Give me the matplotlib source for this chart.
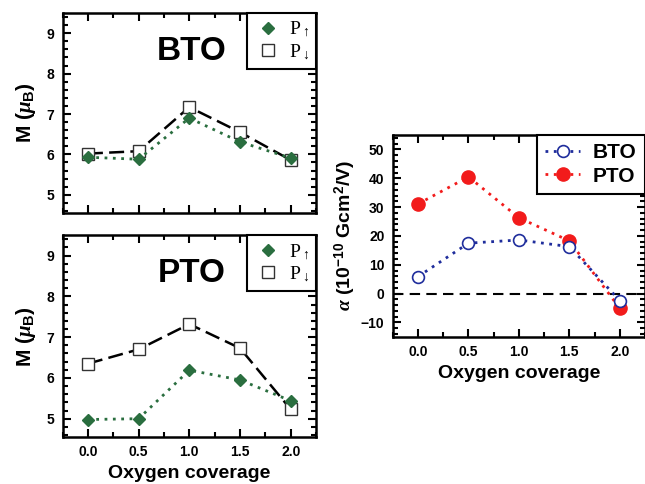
import matplotlib.pyplot as plt
from matplotlib.ticker import MultipleLocator

plt.rcParams['font.family'] = ['Liberation Sans', 'DejaVu Sans']
plt.rcParams['font.weight'] = 'bold'
plt.rcParams['mathtext.fontset'] = 'custom'
plt.rcParams['mathtext.rm'] = 'Liberation Sans:bold'
plt.rcParams['mathtext.bf'] = 'Liberation Sans:bold'
plt.rcParams['mathtext.it'] = 'Liberation Serif:italic'

coverage = [0.0, 0.5, 1.0, 1.5, 2.0]

# magnetic moments (mu_B)
bto_up = [5.93, 5.88, 6.90, 6.31, 5.91]
bto_dn = [6.02, 6.08, 7.17, 6.55, 5.86]
pto_up = [4.98, 5.00, 6.19, 5.95, 5.44]
pto_dn = [6.35, 6.70, 7.32, 6.73, 5.23]

# magnetoelectric coefficient (1e-10 G cm^2 / V)
alpha_bto = [5.9, 17.5, 18.6, 16.3, -2.4]
alpha_pto = [31.1, 40.5, 26.3, 18.3, -5.1]

green = '#2a6e3f'
blue = '#1f2d9c'
red = '#f21b1b'

fig = plt.figure(figsize=(6.45, 4.84), dpi=100)
ax1 = fig.add_axes([0.097, 0.560, 0.393, 0.413])
ax2 = fig.add_axes([0.097, 0.097, 0.393, 0.417])
ax3 = fig.add_axes([0.609, 0.304, 0.391, 0.417])


def style(ax, ymaj, ymin):
    ax.set_xlim(-0.25, 2.25)
    ax.xaxis.set_major_locator(MultipleLocator(0.5))
    ax.xaxis.set_minor_locator(MultipleLocator(0.25))
    ax.yaxis.set_major_locator(MultipleLocator(ymaj))
    ax.yaxis.set_minor_locator(MultipleLocator(ymin))
    ax.tick_params(which='both', direction='in', top=True, right=True,
                   width=1.5, labelsize=10, pad=6)
    ax.tick_params(which='major', length=6)
    ax.tick_params(which='minor', length=3.5)
    for s in ax.spines.values():
        s.set_linewidth(1.8)
    for lab in ax.get_xticklabels() + ax.get_yticklabels():
        lab.set_fontweight('bold')


def mpanel(ax, up, dn, name):
    ax.plot(coverage, up, linestyle=(0, (1, 2)), color=green, lw=2,
            marker='D', ms=6.5, mfc=green, mec=green, label=r'P$_{\uparrow}$', zorder=3)
    ax.plot(coverage, dn, linestyle=(0, (6, 2.5)), color='black', lw=1.8,
            marker='s', ms=9, mfc='white', mec='#333333', mew=1.0,
            label=r'P$_{\downarrow}$', zorder=2)
    ax.set_ylim(4.55, 9.5)
    style(ax, 1, 0.2)
    ax.set_ylabel(r'M ($\mathit{\mu}_\mathbf{B}$)', fontsize=15, fontweight='bold', labelpad=6)
    ax.text(0.51, 0.81, name, transform=ax.transAxes, ha='center', va='center',
            fontsize=24, fontweight='bold')
    leg = ax.legend(loc='upper right', borderaxespad=0, fancybox=False,
                    edgecolor='black', framealpha=1, handlelength=1.4,
                    handletextpad=0.4, borderpad=0.35, labelspacing=0.15,
                    prop={'family': 'Liberation Serif', 'weight': 'normal', 'size': 14})
    leg.get_frame().set_linewidth(1.5)
    for h in leg.legend_handles:
        h.set_linestyle('none')


mpanel(ax1, bto_up, bto_dn, 'BTO')
ax1.tick_params(labelbottom=False)
mpanel(ax2, pto_up, pto_dn, 'PTO')
ax2.set_xlabel('Oxygen coverage', fontsize=14, fontweight='bold', labelpad=4)

ax3.axhline(0, color='black', lw=1.5, linestyle=(0, (5, 3)), zorder=1)
ax3.plot(coverage, alpha_bto, linestyle=(0, (1, 2)), color=blue, lw=2,
         marker='o', ms=8.5, mfc='white', mec=blue, mew=1.2, label='BTO', zorder=3)
ax3.plot(coverage, alpha_pto, linestyle=(0, (1, 2)), color=red, lw=2,
         marker='o', ms=9.5, mfc=red, mec=red, label='PTO', zorder=2)
ax3.set_ylim(-15, 55)
style(ax3, 10, 2)
ax3.set_ylabel(r'$\alpha$ (10$^{-10}$ Gcm$^{2}$/V)', fontsize=14, fontweight='bold', labelpad=2)
ax3.set_xlabel('Oxygen coverage', fontsize=14, fontweight='bold', labelpad=4)
leg3 = ax3.legend(loc='upper right', borderaxespad=0, fancybox=False,
                  edgecolor='black', framealpha=1, handlelength=1.7,
                  handletextpad=0.6, borderpad=0.4, labelspacing=0.2,
                  prop={'weight': 'bold', 'size': 15})
leg3.get_frame().set_linewidth(1.5)

fig.savefig('out.png', dpi=100)
